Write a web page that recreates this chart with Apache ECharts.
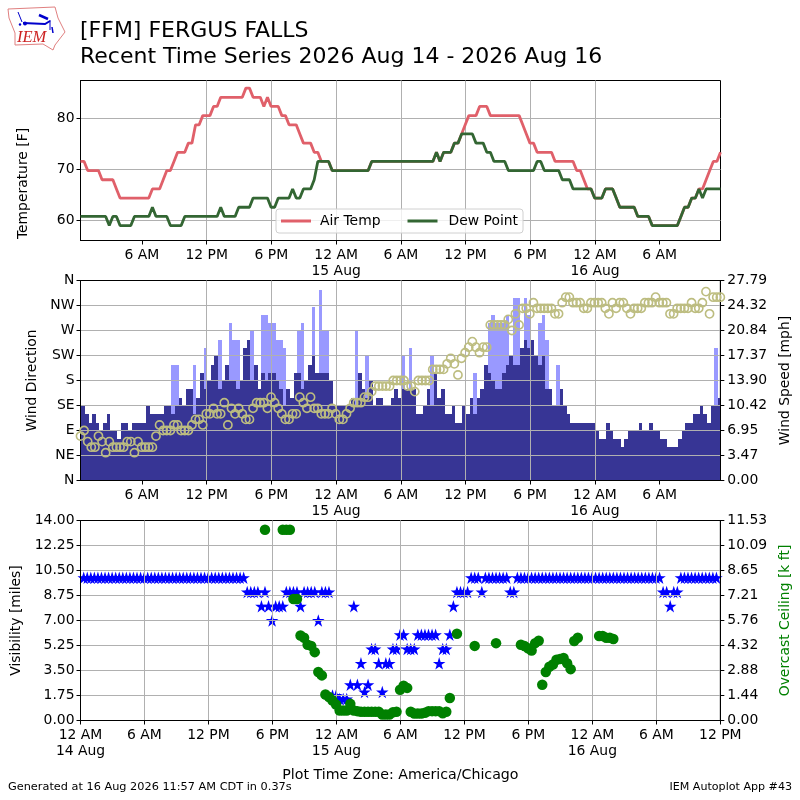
<!DOCTYPE html>
<html>
<head>
<meta charset="utf-8">
<style>html,body{margin:0;padding:0;background:#fff}#c{width:800px;height:800px}</style>
<script src="https://cdn.jsdelivr.net/npm/echarts@6/dist/echarts.min.js"></script>
</head>
<body>
<div id="c"></div>
<script>
// Observation clock: hours after 14 Aug 00:00, one reading each 20 minutes
const obsStartHour = 0.3, obsStepHour = 1 / 3;

const airTemp = [
71.6,71.6,69.8,69.8,69.8,69.8,68,68,68,68,
66.2,64.4,64.4,64.4,64.4,64.4,64.4,64.4,64.4,64.4,
66.2,66.2,66.2,68,69.8,69.8,71.6,73.4,73.4,73.4,
75.2,75.2,78.8,78.8,80.6,80.6,80.6,82.4,82.4,84.2,
84.2,84.2,84.2,84.2,84.2,84.2,86,86,84.2,84.2,
84.2,82.4,84.2,82.4,82.4,82.4,80.6,80.6,78.8,78.8,
78.8,77,75.2,75.2,75.2,73.4,73.4,71.6,71.6,71.6,
69.8,69.8,69.8,69.8,69.8,69.8,69.8,69.8,69.8,69.8,
69.8,71.6,71.6,71.6,71.6,71.6,71.6,71.6,71.6,71.6,
71.6,71.6,71.6,71.6,71.6,71.6,71.6,71.6,71.6,73.4,
71.6,73.4,73.4,73.4,75.2,75.2,77,78.8,80.6,80.6,
80.6,82.4,82.4,82.4,80.6,80.6,80.6,80.6,80.6,80.6,
80.6,80.6,80.6,78.8,77,75.2,75.2,73.4,73.4,73.4,
73.4,73.4,71.6,71.6,71.6,71.6,71.6,71.6,69.8,69.8,
68,66.2,66.2,64.4,64.4,64.4,66.2,66.2,66.2,64.4,
62.6,62.6,62.6,62.6,62.6,60.8,60.8,60.8,60.8,59,
59,59,59,59,59,59,59,60.8,62.6,62.6,
64.4,64.4,66.2,66.2,68,69.8,71.6,71.6,73.4];

const dewPoint = [
60.8,60.8,60.8,60.8,60.8,60.8,60.8,60.8,59,60.8,
60.8,59,59,59,59,60.8,60.8,60.8,60.8,60.8,
62.6,60.8,60.8,60.8,60.8,59,59,59,59,60.8,
60.8,60.8,60.8,60.8,60.8,60.8,60.8,60.8,60.8,62.6,
60.8,60.8,60.8,60.8,62.6,62.6,62.6,62.6,64.4,64.4,
64.4,64.4,64.4,62.6,62.6,64.4,64.4,64.4,64.4,66.2,
64.4,64.4,66.2,66.2,66.2,68,71.6,71.6,71.6,71.6,
69.8,69.8,69.8,69.8,69.8,69.8,69.8,69.8,69.8,69.8,
69.8,71.6,71.6,71.6,71.6,71.6,71.6,71.6,71.6,71.6,
71.6,71.6,71.6,71.6,71.6,71.6,71.6,71.6,71.6,73.4,
71.6,73.4,73.4,73.4,75.2,75.2,77,77,77,77,
75.2,75.2,75.2,73.4,73.4,71.6,71.6,71.6,71.6,69.8,
69.8,69.8,69.8,69.8,69.8,69.8,69.8,71.6,71.6,69.8,
69.8,69.8,69.8,69.8,68,68,68,66.2,66.2,66.2,
66.2,66.2,66.2,64.4,64.4,64.4,66.2,66.2,66.2,64.4,
62.6,62.6,62.6,62.6,62.6,60.8,60.8,60.8,60.8,59,
59,59,59,59,59,59,59,60.8,62.6,62.6,
64.4,64.4,66.2,64.4,66.2,66.2,66.2,66.2,66.2];

const windDir = [
80,90,70,60,60,80,70,50,70,60,
60,60,60,70,70,50,70,60,60,60,
60,80,100,90,90,90,100,100,90,90,
90,100,110,110,100,120,120,130,120,120,
140,100,130,120,130,120,110,110,130,140,
140,140,130,150,140,130,120,110,110,120,
120,150,140,130,150,130,130,120,120,120,
130,120,110,110,120,130,140,140,140,150,
150,160,170,170,170,170,170,180,180,180,
180,170,170,160,180,180,180,180,200,200,
200,200,210,220,210,190,220,230,240,250,
240,230,240,240,280,280,280,280,280,290,
270,300,280,310,310,300,320,310,310,310,
310,310,300,300,320,330,330,320,320,320,
310,310,320,320,320,320,310,300,320,310,
320,320,310,300,310,310,310,320,320,320,
330,320,320,320,300,300,310,310,310,310,
320,310,310,320,340,300,330,330,330];

const windKnots = [
9,8,7,8,7,6,7,8,6,6,
5,7,7,6,7,7,7,7,9,8,
8,8,8,9,9,8,9,10,9,11,
11,8,10,13,11,12,14,15,11,12,
14,12,12,11,12,16,17,12,14,11,
13,12,13,13,12,11,9,11,10,13,
13,11,12,14,15,13,13,13,13,12,
9,9,9,9,9,10,9,13,11,10,
12,9,10,10,9,9,10,11,10,11,
11,11,11,8,8,9,11,9,13,10,
11,8,8,9,7,7,9,8,10,8,
10,11,14,13,12,11,11,13,14,15,
14,14,16,17,16,17,15,14,15,11,
11,9,9,11,9,8,7,7,7,7,
7,7,7,6,5,5,7,6,5,5,
4,5,6,6,6,7,6,6,7,6,
6,5,5,4,4,4,5,6,7,7,
8,8,9,8,7,9,9,10,10];

const gustKnots = [
0,0,0,0,0,0,0,0,0,0,
0,0,0,0,0,0,0,0,0,0,
0,0,0,0,0,14,14,0,0,0,
0,14,0,0,16,0,0,0,17,0,
0,19,17,17,0,0,0,18,0,0,
20,20,19,19,17,17,16,0,0,0,
18,19,0,0,21,0,23,18,18,0,
0,0,0,0,0,0,18,0,0,15,
0,0,0,0,0,0,0,0,0,15,
0,16,0,0,0,0,0,15,0,0,
0,0,0,0,0,0,0,0,0,13,
0,0,0,19,20,19,19,19,20,0,
22,22,0,22,20,0,0,19,20,17,
0,0,14,0,0,0,0,0,0,0,
0,0,0,0,0,0,0,0,0,0,
0,0,0,0,0,0,0,0,0,0,
0,0,0,0,0,0,0,0,0,0,
0,0,0,0,0,0,16,0,0];

const visibility = [
10,10,10,10,10,10,10,10,10,10,
10,10,10,10,10,10,10,10,10,10,
10,10,10,10,10,10,10,10,10,10,
10,10,10,10,10,10,10,10,10,10,
10,10,10,10,10,10,9,9,9,9,
8,9,8,7,8,8,8,9,9,9,
9,8,9,9,9,9,7,9,9,9,
1.75,1.75,1.5,1.5,1.5,2.5,8,2.5,4,2,
2.5,5,5,4,2,4,4,5,5,6,
6,5,5,5,6,6,6,6,6,6,
4,5,5,6,8,9,9,9,9,10,
10,10,9,10,10,10,10,10,10,10,
9,9,10,10,10,10,10,10,10,10,
10,10,10,10,10,10,10,10,10,10,
10,10,10,10,10,10,10,10,10,10,
10,10,10,10,10,10,10,10,10,10,
10,10,10,9,9,8,9,9,10,10,
10,10,10,10,10,10,10,10,10];

const _ = null;
const ceiling = [
_,_,_,_,_,_,_,_,_,_,
_,_,_,_,_,_,_,_,_,_,
_,_,_,_,_,_,_,_,_,_,
_,_,_,_,_,_,_,_,_,_,
_,_,_,_,_,_,_,_,_,_,
_,11,_,_,_,_,11,11,11,7,
7,4.9,4.77,4.37,4.3,3.94,2.8,2.6,1.5,1.35,
1.15,.92,.58,.58,.58,.96,.58,.54,.5,.5,
.5,.5,.5,.5,.35,.35,.35,.48,.5,1.77,
2,1.88,.5,.4,.4,.4,.45,.54,.54,.54,
.54,.42,.5,1.3,_,5,_,_,_,_,
4.3,_,_,_,_,_,4.46,_,_,_,
_,_,_,4.37,4.29,4.17,4.04,4.46,4.6,2.06,
2.8,3.1,3.23,3.5,3.55,3.6,3.3,2.96,4.58,4.77,
_,_,_,_,_,4.87,4.87,4.77,4.77,4.7,
_,_,_,_,_,_,_,_,_,_,
_,_,_,_,_,_,_,_,_,_,
_,_,_,_,_,_,_,_,_];

const dirLabels = ['N','NE','E','SE','S','SW','W','NW','N'];
const speedLabels = ['0.00','3.47','6.95','10.42','13.90','17.37','20.84','24.32','27.79'];
const visLabels = ['0.00','1.75','3.50','5.25','7.00','8.75','10.50','12.25','14.00'];
const ceilLabels = ['0.00','1.44','2.88','4.32','5.76','7.21','8.65','10.09','11.53'];
const hourTicksTop = [6,12,18,24,30,36,42,48,54];
const hourTicksBottom = [0,6,12,18,24,30,36,42,48,54,60];
const tempTicks = [60,70,80];
const KT_TO_MPH = 1.15078;

const FONT = 'DejaVu Sans', FS = 13.9;
const hours = airTemp.map((v, i) => obsStartHour + i * obsStepHour);
const pair = (arr) => arr.map((v, i) => [hours[i], v]);
const BAR_SHIFT = 0.09;

function hourLabel(h) {
  const hh = h % 24;
  const t = hh === 0 ? '12 AM' : hh === 6 ? '6 AM' : hh === 12 ? '12 PM' : '6 PM';
  if (hh === 0) return t + '\n' + (14 + h / 24) + ' Aug';
  return t;
}
function xAxis(gridIndex, min, max, ticks, extra) {
  return Object.assign({
    type: 'value', gridIndex, min, max, z: 3,
    axisLine: { show: true, onZero: false, lineStyle: { color: '#000', width: 1 } },
    axisTick: { show: true, length: 4, customValues: ticks, lineStyle: { color: '#000', width: 1 } },
    axisLabel: { show: true, customValues: ticks, formatter: hourLabel, color: '#000',
      fontFamily: FONT, fontSize: FS, margin: 7, lineHeight: 16, hideOverlap: false, showMinLabel: true, showMaxLabel: true },
    splitLine: { show: true, showMinLine: false, showMaxLine: false, lineStyle: { color: '#b0b0b0', width: 1 } }
  }, extra || {});
}
const yLabel = (margin, extra) => Object.assign({ show: true, color: '#000', fontFamily: FONT, fontSize: FS, margin,
  padding: [2, 0, 0, 0], showMinLabel: true, showMaxLabel: true }, extra || {});
const gridSplit = { show: true, showMinLine: false, showMaxLine: false, lineStyle: { color: '#b0b0b0', width: 1 } };
function yAxis(o) {
  return Object.assign({
    type: 'value', z: 3, nameLocation: 'middle',
    nameTextStyle: { fontFamily: FONT, fontSize: FS, color: '#000' },
    axisLine: { show: true, onZero: false, lineStyle: { color: '#000', width: 1 } },
    axisTick: { show: true, length: 4, lineStyle: { color: '#000', width: 1 } },
    splitLine: { show: false }
  }, o);
}
const topMin = obsStartHour, topMax = obsStartHour + 178 * obsStepHour;
const STAR = 'path://M0,-1L0.2245,-0.309L0.951,-0.309L0.363,0.118L0.588,0.809L0,0.382L-0.588,0.809L-0.363,0.118L-0.951,-0.309L-0.2245,-0.309Z';
const gridBase = { show: true, borderColor: '#000', borderWidth: 1, backgroundColor: 'transparent' };

function barItem(params, api) {
  const h = api.value(0), v = api.value(1);
  if (!v) return null;
  const a = api.coord([h, v]), b = api.coord([h + obsStepHour, 0]);
  const x0 = Math.round(a[0]), x1 = Math.round(b[0]), y0 = Math.round(a[1]);
  const cs = params.coordSys;
  const r = echarts.graphic.clipRectByRect(
    { x: x0, y: y0, width: x1 - x0, height: Math.round(b[1]) - y0 },
    { x: cs.x, y: cs.y, width: cs.width, height: cs.height });
  return r && { type: 'rect', shape: r, style: { fill: api.visual('color') } };
}
const titleStyle = s => ({ fontFamily: FONT, fontSize: s, fontWeight: 'normal', color: '#000' });

const option = {
  animation: false,
  backgroundColor: '#fff',
  textStyle: { fontFamily: FONT },
  title: [
    { text: '[FFM] FERGUS FALLS', left: 80, top: 20, padding: 0, textStyle: titleStyle(22) },
    { text: 'Recent Time Series 2026 Aug 14 - 2026 Aug 16', left: 80, top: 46, padding: 0, textStyle: titleStyle(22) },
    { text: 'Generated at 16 Aug 2026 11:57 AM CDT in 0.37s', left: 8, top: 782, padding: 0, textStyle: titleStyle(11.3) },
    { text: 'IEM Autoplot App #43', right: 8, top: 782, padding: 0, textStyle: titleStyle(11.1) }
  ],
  legend: {
    data: ['Air Temp', { name: 'Dew Point', textStyle: { padding: [0, 0, 0, 6] } }],
    left: 276, top: 209, orient: 'horizontal', icon: 'rect',
    itemWidth: 30, itemHeight: 3, itemGap: 27,
    padding: [5, 5, 5, 5],
    backgroundColor: 'rgba(255,255,255,0.8)', borderColor: '#d0d0d0', borderWidth: 1, borderRadius: 3,
    textStyle: { fontFamily: FONT, fontSize: FS, color: '#000', padding: [0, 0, 0, 4] }
  },
  grid: [
    Object.assign({ left: 80.5, top: 80.5, width: 640, height: 160 }, gridBase),
    Object.assign({ left: 80.5, top: 280.5, width: 640, height: 200 }, gridBase),
    Object.assign({ left: 80.5, top: 520.5, width: 640, height: 200 }, gridBase)
  ],
  xAxis: [
    xAxis(0, topMin, topMax, hourTicksTop),
    xAxis(1, topMin, topMax, hourTicksTop),
    xAxis(2, 0, 60, hourTicksBottom, {
      name: 'Plot Time Zone: America/Chicago', nameLocation: 'middle', nameGap: 48,
      nameTextStyle: { fontFamily: FONT, fontSize: 14.2, color: '#000' } })
  ],
  yAxis: [
    yAxis({ gridIndex: 0, min: 56.07, max: 87.5, name: 'Temperature [F]', nameGap: 50,
      nameTextStyle: { fontFamily: FONT, fontSize: FS, color: '#000', padding: [0, 46, 0, 0] },
      axisTick: { show: true, length: 4, customValues: tempTicks, lineStyle: { color: '#000' } },
      axisLabel: yLabel(6, { customValues: tempTicks }),
      splitLine: { show: true, lineStyle: { color: '#b0b0b0', width: 1 } } }),
    yAxis({ gridIndex: 1, min: 0, max: 360, interval: 45, name: 'Wind Direction', nameGap: 39,
      axisLabel: yLabel(6, { formatter: v => dirLabels[Math.round(v / 45)] }),
      splitLine: gridSplit }),
    yAxis({ gridIndex: 1, position: 'right', min: 0, max: 27.79, interval: 27.79 / 8, name: 'Wind Speed [mph]', nameGap: 54,
      axisLabel: yLabel(7, { formatter: v => speedLabels[Math.round(v / (27.79 / 8))] }) }),
    yAxis({ gridIndex: 2, min: 0, max: 14, interval: 1.75, name: 'Visibility [miles]', nameGap: 53,
      axisLabel: yLabel(6, { formatter: v => visLabels[Math.round(v / 1.75)] }),
      splitLine: gridSplit }),
    yAxis({ gridIndex: 2, position: 'right', min: 0, max: 11.53, interval: 11.53 / 8, name: 'Overcast Ceiling [k ft]', nameGap: 54,
      nameTextStyle: { fontFamily: FONT, fontSize: FS, color: '#008000' },
      axisLabel: yLabel(7, { formatter: v => ceilLabels[Math.round(v / (11.53 / 8))] }) })
  ],
  series: [
    { name: 'Air Temp', type: 'line', xAxisIndex: 0, yAxisIndex: 0, z: 4, showSymbol: false, symbol: 'none',
      data: pair(airTemp), lineStyle: { color: '#e0606a', width: 2.8 }, itemStyle: { color: '#e0606a' } },
    { name: 'Dew Point', type: 'line', xAxisIndex: 0, yAxisIndex: 0, z: 5, showSymbol: false, symbol: 'none',
      data: pair(dewPoint), lineStyle: { color: '#336633', width: 2.8 }, itemStyle: { color: '#336633' } },
    { name: 'Gust', type: 'custom', xAxisIndex: 1, yAxisIndex: 2, z: 1, renderItem: barItem, encode: { x: 0, y: 1 },
      data: gustKnots.map((v, i) => [hours[i] + BAR_SHIFT, v * KT_TO_MPH]), itemStyle: { color: '#9999ff' } },
    { name: 'Wind Speed', type: 'custom', xAxisIndex: 1, yAxisIndex: 2, z: 2, renderItem: barItem, encode: { x: 0, y: 1 },
      data: windKnots.map((v, i) => [hours[i] + BAR_SHIFT, v * KT_TO_MPH]), itemStyle: { color: '#373595' } },
    { name: 'Wind Direction', type: 'scatter', xAxisIndex: 1, yAxisIndex: 1, z: 4, clip: true, symbolSize: 8.2,
      data: pair(windDir), itemStyle: { color: 'rgba(0,0,0,0)', borderColor: '#bdbd80', borderWidth: 1.6, opacity: 1 } },
    { name: 'Visibility', type: 'scatter', xAxisIndex: 2, yAxisIndex: 3, z: 2, clip: true, symbol: STAR, symbolSize: 12.5,
      data: pair(visibility), itemStyle: { color: '#0000ff', opacity: 1 } },
    { name: 'Ceiling', type: 'scatter', xAxisIndex: 2, yAxisIndex: 4, z: 5, clip: true, symbolSize: 10.5,
      data: pair(ceiling).filter(p => p[1] != null), itemStyle: { color: '#008000', opacity: 1 } }
  ],
  graphic: [
    { type: 'polygon', shape: { points: [[8,9],[55,7],[58,18],[65,32],[55,45],[53,50],[43,44],[15,45],[15,33],[9,18]] },
      style: { fill: '#fff', stroke: '#e08080', lineWidth: 1 } },
    { type: 'polyline', shape: { points: [[23,23],[45,24],[50,21]] }, style: { stroke: '#0000cc', lineWidth: 2, fill: null } },
    { type: 'polyline', shape: { points: [[18,12],[22,22]] }, style: { stroke: '#0000cc', lineWidth: 1, fill: null } },
    { type: 'polyline', shape: { points: [[39,15],[48,19]] }, style: { stroke: '#0000cc', lineWidth: 2.5, fill: null } },
    { type: 'polyline', shape: { points: [[50,20],[50,30]] }, style: { stroke: '#0000cc', lineWidth: 1, fill: null } },
    { type: 'polyline', shape: { points: [[52,27],[53,33]] }, style: { stroke: '#0000cc', lineWidth: 1.5, fill: null } },
    { type: 'circle', shape: { cx: 25, cy: 23.5, r: 2 }, style: { fill: '#0000cc' } },
    { type: 'circle', shape: { cx: 20, cy: 24.5, r: 1.2 }, style: { fill: '#0000cc' } },
    { type: 'text', left: 17, top: 29, style: { text: 'IEM', fill: '#cc2222', font: 'italic 16.5px "Liberation Serif"' } }
  ]
};
const chart = echarts.init(document.getElementById('c'), null, { renderer: 'canvas', width: 800, height: 800 });
chart.setOption(option);
</script>
</body>
</html>
